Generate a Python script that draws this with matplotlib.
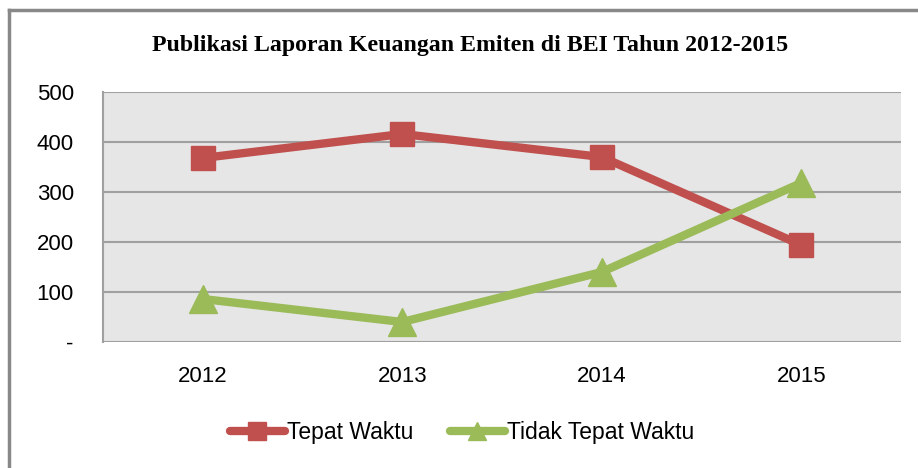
import matplotlib
matplotlib.use("Agg")
import matplotlib.pyplot as plt
from matplotlib.lines import Line2D

years = ["2012", "2013", "2014", "2015"]
tepat_waktu = [368, 416, 370, 194]
tidak_tepat_waktu = [86, 40, 140, 318]
yticks = [0, 100, 200, 300, 400, 500]
ytick_labels = ["-", "100", "200", "300", "400", "500"]

fig = plt.figure(figsize=(9.18, 4.68), dpi=100)
ax = fig.add_axes([103/918, 1-342/468, 798/918, 250/468])

red = "#C0504D"
green = "#9BBB59"
x = list(range(len(years)))
ax.plot(x, tepat_waktu, color=red, lw=6, marker="s", ms=17, mec=red, mfc=red, label="Tepat Waktu", zorder=3)
ax.plot(x, tidak_tepat_waktu, color=green, lw=6, marker="^", ms=20, mec=green, mfc=green, label="Tidak Tepat Waktu", zorder=3)

ax.set_xlim(-0.5, 3.5)
ax.set_ylim(0, 500)
ax.set_facecolor("#E6E6E6")
ax.set_yticks(yticks)
ax.set_yticklabels(ytick_labels)
ax.set_xticks(x)
ax.set_xticklabels(years)
for y in yticks:
    ax.axhline(y, color="#A0A0A0", lw=1.5, zorder=1)
for s in ["top", "right", "bottom"]:
    ax.spines[s].set_visible(False)
ax.spines["left"].set_color("#A0A0A0")
ax.spines["left"].set_linewidth(1.5)
ax.tick_params(axis="both", length=0, labelsize=16, colors="black")
ax.tick_params(axis="y", pad=21)
ax.tick_params(axis="x", pad=17)
for lab in ax.get_xticklabels() + ax.get_yticklabels():
    lab.set_fontfamily("Liberation Sans")

fig.text(470/918, 1-46/468, "Publikasi Laporan Keuangan Emiten di BEI Tahun 2012-2015",
         ha="center", va="center", fontsize=17.2, fontweight="bold", family="Liberation Serif")

handles = [Line2D([], [], color=red, lw=6, marker="s", ms=13, solid_capstyle="round"),
           Line2D([], [], color=green, lw=6, marker="^", ms=13, solid_capstyle="round")]
fig.legend(handles, ["Tepat Waktu", "Tidak Tepat Waktu"], loc="center",
           bbox_to_anchor=(462/918, 1-433/468), ncol=2, frameon=False,
           prop={"family": "Liberation Sans", "size": 16.5}, handlelength=2.4,
           handletextpad=0.1, columnspacing=1.6)

# figure border (top and left edges visible)
fig.add_artist(Line2D([9/918, 1], [1-10/468, 1-10/468], color="#888888", lw=2.5, transform=fig.transFigure))
fig.add_artist(Line2D([9/918, 9/918], [0, 1-10/468], color="#888888", lw=2.5, transform=fig.transFigure))

fig.savefig("out.png", dpi=100)
